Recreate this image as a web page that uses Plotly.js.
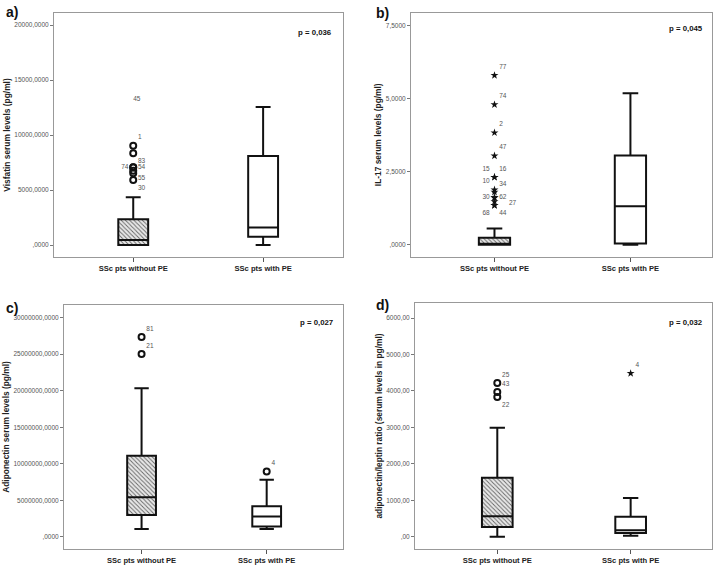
<!DOCTYPE html>
<html><head><meta charset="utf-8">
<script src="https://cdn.plot.ly/plotly-3.0.1.min.js"></script>
<style>html,body{margin:0;padding:0;background:#fff}#chart{width:718px;height:568px}</style>
</head><body><div id="chart"></div>
<script>
const groups = ['SSc pts without PE', 'SSc pts with PE'];

// a) Visfatin
const visQ1 = [0, 760], visMed = [450, 1600], visQ3 = [2330, 8090], visLo = [0, 0], visHi = [4340, 12550];
const visOutVals = [9030, 8330, 7060, 7060, 6760, 6520, 5910];
const visOutLabels = ['1', '83', '74', '54', '55', '', '30'];
const visOutPos = ['top right', 'bottom right', 'middle left', 'middle right', 'bottom right', 'middle right', 'bottom right'];
const visExtVals = [13270], visExtLabels = ['45'];
const visTicks = [0, 5000, 10000, 15000, 20000];
const visTickText = [',0000', '5000,0000', '10000,0000', '15000,0000', '20000,0000'];

// b) IL-17
const ilQ1 = [0, 0.04], ilMed = [0.03, 1.32], ilQ3 = [0.24, 3.05], ilLo = [0, 0], ilHi = [0.56, 5.18];
const ilExtVals = [5.79, 4.79, 3.83, 3.04, 2.31, 2.31, 1.88, 1.80, 1.61, 1.61, 1.48, 1.35, 1.35];
const ilExtLabels = ['77', '74', '2', '47', '15', '16', '10', '34', '30', '62', '', '68', '44'];
const ilExtPos = ['top right', 'top right', 'top right', 'top right', 'top left', 'top right', 'top left', 'top right', 'middle left', 'middle right', 'middle right', 'bottom left', 'bottom right'];
const ilSideLabel = '27', ilSideVal = 1.48;
const ilTicks = [0, 2.5, 5, 7.5];
const ilTickText = [',0000', '2,5000', '5,0000', '7,5000'];

// c) Adiponectin
const adQ1 = [2.96e6, 1.41e6], adMed = [5.42e6, 2.78e6], adQ3 = [11.08e6, 4.19e6], adLo = [1.05e6, 1.05e6], adHi = [20.33e6, 7.79e6];
const adOutVals0 = [27.35e6, 25.03e6], adOutLabels0 = ['81', '21'];
const adOutVals1 = [8.93e6], adOutLabels1 = ['4'];
const adTicks = [0, 5e6, 10e6, 15e6, 20e6, 25e6, 30e6];
const adTickText = [',0000', '5000000,0000', '10000000,0000', '15000000,0000', '20000000,0000', '25000000,0000', '30000000,0000'];

// d) adiponectin/leptin ratio
const rtQ1 = [265, 100], rtMed = [558, 174], rtQ3 = [1619, 549], rtLo = [0, 27], rtHi = [2992, 1061];
const rtOutVals0 = [4218, 3971, 3833], rtOutLabels0 = ['25', '43', '22'];
const rtOutPos0 = ['top right', 'top right', 'bottom right'];
const rtExtVals1 = [4483], rtExtLabels1 = ['4'];
const rtTicks = [0, 1000, 2000, 3000, 4000, 5000, 6000];
const rtTickText = [',00', '1000,00', '2000,00', '3000,00', '4000,00', '5000,00', '6000,00'];

const FONT = 'Liberation Sans, Arial, sans-serif';
const BW = 0.23;
function labelFont() { return {family: FONT, size: 6.5, color: '#555'}; }

function boxTraces(n, q1, med, q3, lo, hi) {
  const xa = n === 1 ? 'x' : 'x' + n, ya = n === 1 ? 'y' : 'y' + n;
  return [
    {type: 'bar', x: [groups[0]], y: [q3[0] - q1[0]], base: [q1[0]], width: BW, xaxis: xa, yaxis: ya,
     marker: {color: '#e8e8e8', line: {width: 0}, pattern: {shape: '\\', fgcolor: '#666', bgcolor: '#e8e8e8', size: 3, solidity: 0.3}},
     hoverinfo: 'skip'},
    {type: 'box', x: groups, q1: q1, median: med, q3: q3, lowerfence: lo, upperfence: hi, width: BW,
     whiskerwidth: 0.5, boxpoints: false, fillcolor: 'rgba(0,0,0,0)', line: {color: '#111', width: 2},
     xaxis: xa, yaxis: ya, hoverinfo: 'skip'}
  ];
}
function pts(n, g, vals, labels, pos, symbol, size) {
  const xa = n === 1 ? 'x' : 'x' + n, ya = n === 1 ? 'y' : 'y' + n;
  return {type: 'scatter', mode: 'markers+text', x: vals.map(() => groups[g]), y: vals, text: labels,
    textposition: pos, textfont: labelFont(), xaxis: xa, yaxis: ya, cliponaxis: false,
    marker: symbol === 'star' ? {symbol: 'star', size: size, color: '#111'} : {symbol: 'circle-open', size: size, color: '#111', line: {width: 2, color: '#111'}},
    hoverinfo: 'skip'};
}

const data = [
  ...boxTraces(1, visQ1, visMed, visQ3, visLo, visHi),
  pts(1, 0, visOutVals, visOutLabels, visOutPos, 'circle', 6),
  {type: 'scatter', mode: 'text', x: [groups[0]], y: visExtVals, text: visExtLabels, textposition: 'middle right', textfont: labelFont(), xaxis: 'x', yaxis: 'y', hoverinfo: 'skip'},
  ...boxTraces(2, ilQ1, ilMed, ilQ3, ilLo, ilHi),
  pts(2, 0, ilExtVals, ilExtLabels, ilExtPos, 'star', 6),
  ...boxTraces(3, adQ1, adMed, adQ3, adLo, adHi),
  pts(3, 0, adOutVals0, adOutLabels0, 'top right', 'circle', 6),
  pts(3, 1, adOutVals1, adOutLabels1, 'top right', 'circle', 6),
  ...boxTraces(4, rtQ1, rtMed, rtQ3, rtLo, rtHi),
  pts(4, 0, rtOutVals0, rtOutLabels0, rtOutPos0, 'circle', 6),
  pts(4, 1, rtExtVals1, rtExtLabels1, 'top right', 'star', 6)
];

function xax(dom, anchor, range) {
  return {domain: dom, anchor: anchor, type: 'category', categoryorder: 'array', categoryarray: groups, range: range,
    showline: true, mirror: true, linecolor: '#999', linewidth: 1, showgrid: false, zeroline: false,
    ticks: 'outside', ticklen: 4, tickcolor: '#555', fixedrange: true,
    tickfont: {family: FONT, size: 7.6, weight: 'bold', color: '#222'}};
}
function yax(dom, anchor, range, tv, tt, title, standoff) {
  return {domain: dom, anchor: anchor, range: range, tickvals: tv, ticktext: tt,
    showline: true, mirror: true, linecolor: '#999', linewidth: 1, showgrid: false, zeroline: false,
    ticks: 'outside', ticklen: 3, tickcolor: '#777', fixedrange: true,
    tickfont: {family: FONT, size: 6.5, color: '#555'},
    title: {text: title, standoff: standoff, font: {family: FONT, size: 8.4, weight: 'bold', color: '#222'}}};
}

function ann(text, x, y, anchor, size) {
  return {text: text, x: x / 718, y: 1 - y / 568, xref: 'paper', yref: 'paper', xanchor: anchor, yanchor: 'middle',
    showarrow: false, font: {family: FONT, size: size, weight: 'bold', color: '#111'}};
}

const layout = {
  width: 718, height: 568, margin: {l: 0, r: 0, t: 0, b: 0}, showlegend: false,
  paper_bgcolor: '#fff', plot_bgcolor: '#fff', font: {family: FONT},
  xaxis: xax([54 / 718, 343 / 718], 'y', [-0.61, 1.615]),
  yaxis: yax([1 - 257 / 568, 1 - 13 / 568], 'x', [-1091, 21091], visTicks, visTickText, 'Visfatin serum levels (pg/ml)', 2),
  xaxis2: xax([411 / 718, 712 / 718], 'y2', [-0.614, 1.6]),
  yaxis2: yax([1 - 256.5 / 568, 1 - 13 / 568], 'x2', [-0.4, 7.92], ilTicks, ilTickText, 'IL-17 serum levels (pg/ml)', 2),
  xaxis3: xax([64 / 718, 343 / 718], 'y3', [-0.62, 1.61]),
  yaxis3: yax([1 - 549 / 568, 1 - 305 / 568], 'x3', [-1.68e6, 31.74e6], adTicks, adTickText, 'Adiponectin serum levels (pg/ml)', 2),
  xaxis4: xax([415 / 718, 712 / 718], 'y4', [-0.617, 1.61]),
  yaxis4: yax([1 - 549 / 568, 1 - 303 / 568], 'x4', [-338, 6413], rtTicks, rtTickText, 'adiponectin/leptin ratio (serum levels in pg/ml)', 2),
  annotations: [
    ann('a)', 4, 12, 'left', 14),
    ann('b)', 374, 13, 'left', 14),
    ann('c)', 4, 308, 'left', 14),
    ann('d)', 374, 305, 'left', 14),
    ann('p = 0,036', 334, 32, 'right', 7.8),
    ann('p = 0,045', 705, 28, 'right', 7.8),
    ann('p = 0,027', 335, 322, 'right', 7.8),
    ann('p = 0,032', 705, 322, 'right', 7.8),
    {text: ilSideLabel, x: groups[0], y: ilSideVal, xref: 'x2', yref: 'y2', xanchor: 'left', yanchor: 'middle',
     xshift: 13, yshift: -1, showarrow: false, font: labelFont()}
  ]
};

Plotly.newPlot('chart', data, layout, {displayModeBar: false, staticPlot: true});
</script></body></html>
